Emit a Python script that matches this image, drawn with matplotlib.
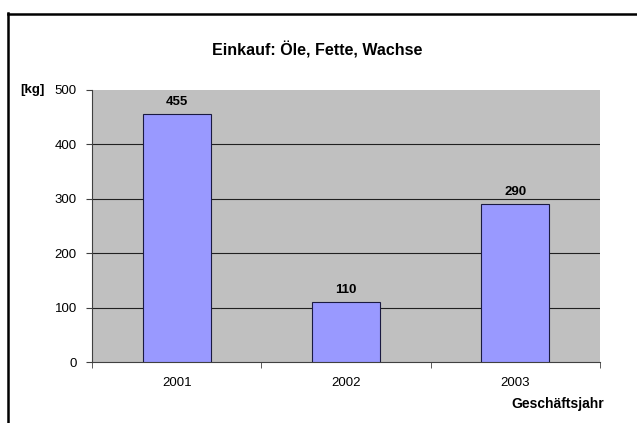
import matplotlib
matplotlib.use("Agg")
import matplotlib.pyplot as plt
from matplotlib.lines import Line2D

plt.rcParams["font.family"] = ["Liberation Sans", "DejaVu Sans"]

years = ["2001", "2002", "2003"]
mengen = [455, 110, 290]
y_ticks = [0, 100, 200, 300, 400, 500]
grid_levels = [100, 200, 300, 400]

fig = plt.figure(figsize=(6.37, 4.23), dpi=100)
fig.patch.set_facecolor("white")

# outer chart frame (left and top edges visible)
fig.add_artist(Line2D([8 / 637, 8 / 637], [0, 1 - 13 / 423], color="black", lw=1.8))
fig.add_artist(Line2D([8 / 637, 1], [1 - 14 / 423, 1 - 14 / 423], color="black", lw=1.8))

ax = fig.add_axes([92 / 637, 61 / 423, 508 / 637, 272 / 423])
ax.set_facecolor("#C0C0C0")

x = range(len(years))
ax.hlines(grid_levels, -0.5, len(years) - 0.5, color="#202020", linewidth=0.8, zorder=1)
ax.bar(x, mengen, width=0.4, color="#9999FF", edgecolor="#1a1a40", linewidth=0.8, zorder=3)
for xi, v in zip(x, mengen):
    ax.text(xi, v + 12, str(v), ha="center", va="bottom", fontsize=9.5, fontweight="bold", zorder=4)

ax.set_xlim(-0.5, len(years) - 0.5)
ax.set_ylim(0, 500)
ax.set_yticks(y_ticks)
ax.set_xticks(list(x))
ax.set_xticklabels(years, fontsize=9.5)
ax.set_xticks([i - 0.5 for i in range(len(years) + 1)], minor=True)
ax.tick_params(axis="x", which="major", length=0, pad=11)
ax.tick_params(axis="x", which="minor", length=4, color="#404040", direction="out")
ax.tick_params(axis="y", labelsize=9.5, length=4, color="#404040", pad=7)

for side in ["top", "right"]:
    ax.spines[side].set_visible(False)
ax.spines["left"].set_color("#404040")
ax.spines["bottom"].set_color("#404040")

fig.text(317 / 637, 1 - 50 / 423, "Einkauf: Öle, Fette, Wachse", ha="center", va="center",
         fontsize=11.5, fontweight="bold")
fig.text(20 / 637, 1 - 90 / 423, "[kg]", ha="left", va="center", fontsize=9.5, fontweight="bold")
fig.text(604 / 637, 1 - 404 / 423, "Geschäftsjahr", ha="right", va="center",
         fontsize=10, fontweight="bold")

fig.savefig("out.png", dpi=100)
